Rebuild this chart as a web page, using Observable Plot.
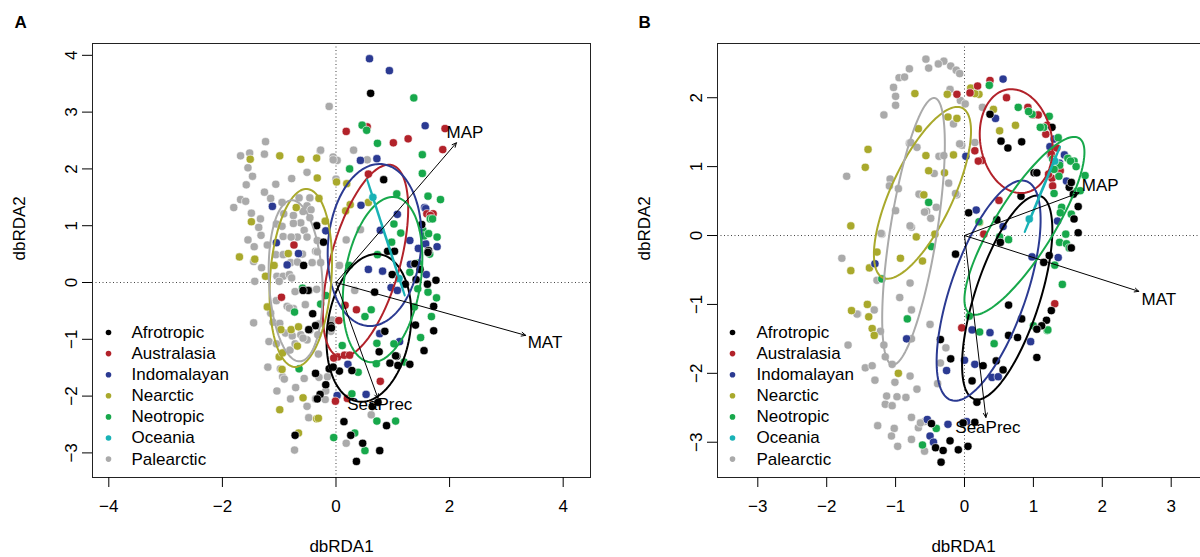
<!DOCTYPE html>
<html><head><meta charset="utf-8">
<script src="https://cdn.jsdelivr.net/npm/d3@7"></script>
<script src="https://cdn.jsdelivr.net/npm/@observablehq/plot@0.6"></script>
<style>
html,body{margin:0;padding:0;background:#fff;overflow:hidden;}
#wrap{position:relative;width:1200px;height:557px;overflow:hidden;}
#pa{position:absolute;left:0;top:0;width:600px;height:557px;}
#pb{position:absolute;left:600px;top:0;width:600px;height:557px;overflow:hidden;}
#pa svg,#pb svg{max-width:none !important;height:557px !important;}
</style></head><body><div id="wrap"><div id="pa"></div><div id="pb"></div></div>
<script>
const regions = ["Afrotropic","Australasia","Indomalayan","Nearctic","Neotropic","Oceania","Palearctic"];
const regionColors = ["#000000","#B2222A","#2B3A92","#A9A92C","#17A84B","#19B2B6","#AAAAAA"];
const envVars = ["MAP","MAT","SeaPrec"];
const xTicksA = [-4,-2,0,2,4];
const yTicksA = [-3,-2,-1,0,1,2,3,4];
const xTicksB = [-3,-2,-1,0,1,2,3];
const yTicksB = [-3,-2,-1,0,1,2];

// ---- Panel A scores ----
const afrotropicA = [[0.61,3.33],[0.84,1.81],[-0.34,1.00],[-0.22,0.71],[1.51,1.02],[1.63,0.56],[0.91,0.55],[1.03,0.55],[1.39,0.33],[1.48,0.23],[0.99,0.14],[1.22,-0.03],[1.41,0.05],[1.61,-0.03],[1.76,0.04],[0.68,-0.17],[1.72,-0.42],[1.40,-0.75],[1.72,-0.85],[0.86,-0.86],[-0.41,-0.55],[-0.36,-0.76],[-0.48,-0.83],[-0.09,-0.76],[-0.49,-0.14],[-0.58,-0.14],[-0.57,0.30],[0.76,-1.22],[1.07,-1.30],[0.95,-1.42],[1.30,-1.44],[1.09,-1.46],[1.55,-1.20],[0.28,-1.55],[0.06,-1.56],[-0.12,-1.52],[-0.05,-1.49],[-0.36,-1.60],[-0.18,-1.80],[-0.28,-1.97],[-0.33,-2.05],[0.64,-2.18],[0.74,-2.11],[0.14,-2.45],[0.89,-2.52],[0.26,-2.69],[0.47,-2.83],[0.77,-2.96],[0.36,-3.15],[-0.72,-2.69],[-0.08,-0.80],[1.62,0.53],[1.05,-1.29]];
const australasiaA = [[0.18,2.66],[0.55,2.74],[1.01,2.46],[1.27,2.53],[1.92,2.71],[1.88,2.34],[0.57,1.91],[1.60,1.21],[1.71,1.21],[-0.74,0.66],[-0.96,-0.26],[0.05,-0.67],[0.36,-0.48],[0.16,-0.40],[0.03,-1.31],[0.15,-1.28],[0.24,-1.28],[-0.04,-1.33],[0.78,-1.74],[-0.01,-2.09],[0.20,-2.04],[1.66,1.18]];
const indomalayanA = [[0.59,3.94],[0.94,3.73],[1.57,2.76],[0.43,2.15],[0.72,2.18],[-1.12,1.34],[0.44,1.36],[1.56,1.32],[1.08,1.20],[-0.18,0.91],[0.78,0.92],[1.30,0.74],[1.45,0.60],[1.78,0.63],[-1.05,0.70],[-0.66,0.51],[-0.86,0.31],[0.57,0.23],[0.82,0.20],[1.31,0.32],[1.59,0.14],[0.97,-0.09],[1.08,-0.14],[0.77,-0.90],[1.12,-1.04],[0.21,-1.44],[0.53,-1.97],[0.02,-1.99],[1.58,1.30],[1.58,0.68]];
const nearcticA = [[-1.51,2.17],[-0.99,2.23],[-0.62,2.17],[-0.34,2.19],[-0.33,1.84],[0.01,1.77],[0.19,1.74],[0.25,1.37],[0.17,1.26],[0.57,1.41],[-0.30,1.48],[-0.70,1.32],[-1.49,1.07],[-1.70,0.45],[-1.43,0.41],[-1.24,0.11],[-1.09,0.30],[-0.84,0.51],[-1.21,-0.43],[-0.97,-0.83],[-0.79,-0.83],[-0.66,-0.78],[-0.68,-1.12],[-1.00,-1.31],[-0.95,-1.53],[-0.94,-1.24],[-0.58,-2.03],[-0.34,-2.40],[-0.99,-2.24],[-0.66,-2.65],[-0.19,1.08],[-0.31,-2.39]];
const neotropicA = [[1.37,3.25],[0.46,2.77],[0.54,2.68],[0.73,2.45],[1.52,2.25],[1.52,1.92],[0.24,2.00],[1.07,1.56],[1.62,1.52],[1.84,1.46],[1.66,1.12],[1.53,0.92],[1.02,1.03],[1.14,0.87],[0.98,0.71],[1.78,0.80],[1.55,0.82],[1.65,0.50],[1.45,0.34],[1.30,0.18],[0.23,0.30],[0.73,0.49],[1.44,-0.11],[1.62,-0.17],[1.77,-0.27],[1.38,-0.43],[0.62,-0.48],[0.51,-0.60],[1.68,-0.60],[1.49,-0.97],[1.02,-1.08],[0.72,-1.07],[0.71,-1.43],[0.39,-1.58],[0.28,-1.96],[0.72,-2.44],[1.05,-2.44],[-0.04,-2.73],[0.33,-2.65],[0.51,-2.96],[0.11,-1.11],[-0.59,-0.10],[-0.18,-0.23],[-0.27,-0.38],[-0.73,-0.52],[-0.65,-1.52],[1.63,0.86],[1.70,1.12],[1.20,-1.40]];
const oceaniaA = [[0.65,1.50],[1.11,0.07]];
const palearcticA = [[-0.12,3.10],[-1.24,2.48],[-1.68,2.23],[-1.52,2.28],[-1.26,2.26],[-0.28,2.32],[0.31,2.33],[-0.05,2.21],[0.02,2.15],[0.55,2.16],[-1.55,2.02],[-1.47,1.87],[-1.58,1.72],[-1.06,1.73],[-0.78,1.83],[-0.51,1.94],[0.00,1.82],[-1.80,1.32],[-1.68,1.46],[-1.59,1.43],[-1.26,1.59],[-1.15,1.48],[-0.95,1.41],[-0.65,1.49],[-0.46,1.49],[-1.49,1.22],[-1.33,1.12],[-1.36,0.97],[-1.32,0.83],[-1.55,0.75],[-1.44,0.63],[-1.21,0.66],[-1.45,0.37],[-1.31,0.26],[-1.43,0.02],[-1.05,1.03],[-0.95,0.99],[-0.75,1.18],[-0.58,1.25],[-0.51,1.35],[-0.44,1.28],[-0.92,1.21],[-0.62,1.05],[-0.46,1.14],[-0.75,1.04],[-0.56,0.92],[-0.51,0.80],[-0.68,0.80],[-0.93,0.81],[-0.79,0.80],[-0.33,0.74],[-0.36,0.55],[-1.06,0.49],[-0.93,0.49],[-0.59,0.50],[-0.33,0.54],[-0.80,0.35],[-0.68,0.36],[-0.42,0.35],[-0.27,0.35],[-1.24,0.11],[-1.04,0.11],[-0.93,0.11],[-0.82,0.14],[-0.78,0.08],[-1.00,0.02],[-0.47,-0.14],[-0.34,-0.12],[-0.72,-0.16],[-1.05,-0.32],[-0.86,-0.42],[-0.75,-0.46],[-0.54,-0.39],[-0.30,-0.73],[-0.46,-0.84],[-1.45,-0.71],[-1.15,-0.54],[-1.11,-0.70],[-0.99,-0.72],[-0.89,-0.89],[-0.77,-0.94],[-0.62,-0.92],[-0.32,-0.92],[-0.09,-0.86],[-1.18,-1.04],[-1.05,-1.08],[-0.81,-1.19],[-0.72,-1.08],[-0.51,-1.01],[-0.31,-1.26],[-0.98,-1.52],[-1.20,-1.49],[-0.94,-1.66],[-0.56,-1.69],[-0.15,-1.66],[-0.30,-1.67],[-0.71,-1.85],[-1.04,-1.91],[-0.91,-1.70],[-0.80,-2.05],[-0.51,-2.18],[-0.48,-2.38],[-0.36,-2.05],[-0.19,-2.06],[-0.18,-1.91],[0.62,-2.33],[0.18,-2.83],[-0.73,-2.95],[0.06,0.30],[0.18,0.75],[0.43,0.93],[0.33,-0.14],[-0.07,-0.66],[-0.27,2.33],[-0.05,2.16],[-0.58,-0.98],[-0.82,-0.45]];

// ---- Panel B scores ----
const afrotropicB = [[0.37,1.76],[1.27,1.57],[0.53,1.37],[0.63,1.27],[0.83,1.36],[1.01,0.91],[1.05,0.91],[0.82,0.57],[1.52,0.70],[1.65,0.42],[1.59,0.24],[1.65,0.04],[1.55,-0.18],[1.23,-0.29],[1.15,-0.39],[0.47,0.23],[0.52,-0.10],[0.06,0.33],[-0.13,-0.27],[0.64,-1.01],[0.83,-1.21],[1.26,-1.09],[1.19,-1.23],[1.12,-1.31],[1.05,-1.36],[1.05,-1.77],[0.64,-1.45],[0.77,-1.48],[0.46,-1.82],[0.56,-1.95],[0.27,-1.89],[0.11,-2.11],[-0.20,-1.79],[-0.35,-1.51],[0.18,-2.42],[-0.48,-2.73],[-0.02,-2.72],[0.15,-2.71],[-0.21,-2.98],[0.05,-3.06],[-0.09,-3.11],[-0.42,-3.08],[-0.31,-3.12],[-0.34,-3.29],[1.58,0.60],[1.55,0.77]];
const australasiaB = [[-0.11,2.05],[0.08,2.07],[0.19,2.17],[0.37,2.25],[0.61,2.00],[0.92,1.86],[0.99,1.75],[1.07,1.75],[1.20,1.60],[1.18,1.47],[1.34,1.27],[1.39,0.94],[1.27,0.83],[1.28,0.72],[0.15,1.23],[0.25,1.09],[0.20,1.08],[0.50,0.51],[0.28,0.02],[-0.04,-1.34],[1.31,-0.99],[1.30,1.05],[1.22,0.89],[1.26,1.18]];
const indomalayanB = [[0.56,2.27],[0.45,1.70],[0.02,1.15],[1.24,1.29],[1.25,1.17],[1.45,1.17],[1.48,0.79],[1.35,0.21],[0.17,0.37],[0.56,0.13],[0.98,-0.31],[1.36,-0.32],[-1.30,-0.41],[-0.84,-1.50],[0.11,-1.37],[0.37,-1.41],[0.96,-1.54],[0.00,-1.81],[-0.26,-1.96],[0.15,-1.87],[0.40,-2.06],[0.49,-2.05],[-0.54,-2.67],[-0.24,-2.74],[0.03,-2.70],[-0.50,-2.91],[-0.45,-3.00],[1.30,1.40],[1.38,1.05]];
const nearcticB = [[-0.72,2.06],[-0.25,2.05],[0.09,2.14],[0.21,2.05],[0.15,2.06],[0.42,1.83],[0.51,1.52],[0.74,1.60],[-0.24,1.72],[-0.11,1.70],[-0.67,1.55],[-1.40,1.25],[-1.44,0.99],[-0.56,1.16],[-0.16,1.17],[-0.52,0.94],[-0.29,0.91],[-0.59,0.59],[-1.65,0.14],[-0.70,-0.02],[-0.43,0.02],[-1.27,-0.24],[-0.93,-0.33],[-0.61,-0.37],[-1.38,-0.47],[-1.65,-0.51],[-1.41,-1.00],[-1.64,-1.09],[-1.39,-1.18],[-1.34,-1.35],[-1.31,-1.45],[-0.96,-2.00],[0.22,0.19]];
const neotropicB = [[0.36,2.18],[0.78,1.86],[0.98,1.76],[0.93,1.80],[1.23,1.73],[1.15,1.57],[1.36,1.42],[1.28,1.11],[1.38,1.02],[1.50,1.12],[1.59,1.08],[1.75,0.87],[1.41,0.41],[1.55,0.31],[1.30,0.61],[1.47,0.02],[1.38,-0.10],[1.48,-0.12],[1.42,-0.71],[1.31,-0.43],[0.51,-0.02],[0.64,-0.06],[-0.52,0.48],[-0.48,-0.16],[-1.20,-0.63],[-0.83,-1.21],[0.07,-1.17],[0.22,-1.40],[0.43,-1.57],[1.00,-1.31],[1.20,-1.38],[-0.41,-2.80],[-0.61,-3.04],[0.21,0.20],[1.63,0.64],[1.68,0.65],[1.37,0.86],[1.30,0.96],[1.54,1.08],[1.39,0.33],[1.52,-0.18],[1.21,-1.37],[1.10,1.57],[1.62,1.00]];
const oceaniaB = [[0.94,0.24],[1.31,1.08]];
const palearcticB = [[-0.56,2.56],[-0.30,2.53],[-0.38,2.49],[-0.20,2.46],[-0.12,2.40],[-0.07,2.35],[-0.52,2.43],[-0.80,2.42],[-0.95,2.29],[-0.87,2.30],[-1.03,2.15],[-1.00,2.02],[-1.00,1.89],[-1.17,1.75],[-0.80,1.34],[-0.69,1.28],[-0.21,2.12],[-0.06,1.96],[0.01,1.91],[0.26,1.86],[-0.16,1.62],[0.15,1.35],[-0.04,1.31],[-0.37,1.15],[-0.30,1.16],[-0.23,0.76],[-0.44,0.90],[-0.11,0.59],[-1.08,0.82],[-1.09,0.72],[-0.96,0.68],[-1.71,0.86],[-1.00,0.36],[-0.64,0.59],[-0.55,0.35],[-0.49,0.25],[-0.41,0.41],[-0.77,0.12],[-1.20,0.02],[-1.78,-0.33],[-0.79,-0.69],[-1.27,-0.65],[-0.94,-0.90],[-0.77,-1.08],[-0.50,-1.29],[-1.31,-1.08],[-1.55,-1.14],[-1.22,-1.39],[-1.17,-1.59],[-1.69,-1.59],[-0.77,-1.50],[-0.27,-1.63],[-0.35,-1.85],[-1.15,-1.76],[-1.05,-1.87],[-1.44,-1.92],[-1.34,-1.89],[-1.30,-2.10],[-1.01,-2.13],[-0.79,-2.04],[-0.69,-2.23],[-1.13,-2.33],[-0.98,-2.34],[-0.85,-2.35],[-1.15,-2.45],[-1.05,-2.47],[-0.39,-2.15],[-0.77,-2.64],[-1.26,-2.76],[-1.02,-2.80],[-0.67,-2.79],[-1.06,-2.91],[-0.97,-3.06],[-0.77,-2.96],[-0.58,-3.13],[-0.58,-2.70],[-0.64,-2.72],[-0.66,0.60],[-0.58,0.34],[-0.13,0.61],[-0.07,1.33],[-0.78,1.35],[-0.79,0.14],[-1.56,-1.14],[-1.21,0.03]];

// ellipse parameters per region (legend order): [centre x, centre y, semi-major, semi-minor, tilt in degrees from vertical]
const ellipsesA = [[0.58,-0.80,1.31,0.73,8.4],[0.52,0.38,1.75,0.61,15.5],[0.68,0.66,1.43,0.82,5],[-0.62,0.08,1.57,0.54,4],[0.82,0.05,1.47,0.67,9],[0.88,0.79,1.07,0.005,-18],[-0.71,0.03,1.42,0.47,-3]];
const ellipsesB = [[0.62,-0.90,1.55,0.47,18],[0.75,1.37,0.76,0.52,-10],[0.35,-0.80,1.68,0.55,19],[-0.61,0.62,1.36,0.45,25],[0.87,0.14,1.50,0.42,32],[1.13,0.67,0.67,0.005,22.5],[-0.74,0.06,1.96,0.34,9]];

// biplot arrows (tips) and their label positions
const arrowTipsA = [[2.12,2.46],[3.34,-0.93],[0.74,-2.04]];
const arrowLabelsA = [[2.27,2.64],[3.68,-1.06],[0.77,-2.14]];
const arrowTipsB = [[1.66,0.62],[2.53,-0.81],[0.31,-2.64]];
const arrowLabelsB = [[1.97,0.72],[2.82,-0.93],[0.34,-2.79]];

const drawOrder = [6,3,2,1,4,0,5];
const FONT = "'Liberation Sans', Arial, Helvetica, sans-serif";

function makePanel(cfg) {
  const dots = [];
  drawOrder.forEach(i => cfg.series[i].forEach(([x, y]) => dots.push({region: regions[i], x, y})));
  const ell = [];
  cfg.ellipses.forEach(([cx, cy, a, b, deg], i) => {
    const th = deg * Math.PI / 180;
    for (let k = 0; k <= 120; k++) {
      const t = 2 * Math.PI * k / 120;
      ell.push({region: regions[i],
        x: cx + a * Math.cos(t) * Math.sin(th) + b * Math.sin(t) * Math.cos(th),
        y: cy + a * Math.cos(t) * Math.cos(th) - b * Math.sin(t) * Math.sin(th)});
    }
  });
  const arr = envVars.map((v, i) => ({v, x0: 0, y0: 0, x: cfg.tips[i][0], y: cfg.tips[i][1], lx: cfg.labels[i][0], ly: cfg.labels[i][1]}));
  const legendMarks = [];
  regions.forEach((r, i) => {
    legendMarks.push(Plot.dot([r], {frameAnchor: "top-left", dx: cfg.legDot, dy: 289 + i * 21.1, r: 2.8, fill: regionColors[i]}));
    legendMarks.push(Plot.text([r], {frameAnchor: "top-left", dx: cfg.legText, dy: 289 + i * 21.1, text: d => d, textAnchor: "start", lineAnchor: "middle", fontSize: 17, fill: "black"}));
  });
  return Plot.plot({
    width: cfg.width, height: 557,
    marginLeft: cfg.ml, marginRight: cfg.mr, marginTop: 43, marginBottom: 80,
    style: {fontFamily: FONT, fontSize: "17px", color: "black", background: "white", overflow: "visible", maxWidth: "none"},
    x: {domain: cfg.xdom},
    y: {domain: cfg.ydom},
    color: {domain: regions, range: regionColors},
    marks: [
      Plot.ruleX([0], {stroke: "#444", strokeDasharray: "1,2.5"}),
      Plot.ruleY([0], {stroke: "#444", strokeDasharray: "1,2.5"}),
      Plot.dot(dots, {x: "x", y: "y", fill: "region", stroke: "white", strokeWidth: 0.6, r: 4.1}),
      Plot.line(ell, {x: "x", y: "y", z: "region", stroke: "region", strokeWidth: 2}),
      Plot.arrow(arr, {x1: "x0", y1: "y0", x2: "x", y2: "y", stroke: "black", strokeWidth: 1, headLength: 7, headAngle: 50}),
      Plot.text(arr, {x: "lx", y: "ly", text: "v", fontSize: 17, fill: "black"}),
      Plot.frame({stroke: "#222", strokeWidth: 1}),
      Plot.axisX({ticks: cfg.xticks, tickSize: 10, tickPadding: 12, fontSize: 17, label: null, tickFormat: d3.format("")}),
      Plot.axisY({ticks: cfg.yticks, tickSize: 10, tickPadding: 6, tickRotate: -90, fontSize: 17, label: null, tickFormat: d3.format("")}),
      Plot.text(["dbRDA1"], {frameAnchor: "bottom", dy: 69, text: d => d, fontSize: 17, lineAnchor: "middle", fill: "black"}),
      Plot.text(["dbRDA2"], {frameAnchor: "left", dx: -73, text: d => d, fontSize: 17, rotate: -90, lineAnchor: "middle", fill: "black"}),
      Plot.text([cfg.title], {frameAnchor: "top-left", dx: cfg.titleDx, dy: -21, text: d => d, fontSize: 17, fontWeight: "bold", lineAnchor: "middle", fill: "black"}),
      ...legendMarks
    ]
  });
}

document.getElementById("pa").appendChild(makePanel({
  title: "A", width: 600, ml: 92, mr: 10,
  xdom: [-4.287, 4.481], ydom: [-3.433, 4.208], xticks: xTicksA, yticks: yTicksA,
  series: [afrotropicA, australasiaA, indomalayanA, nearcticA, neotropicA, oceaniaA, palearcticA],
  ellipses: ellipsesA, tips: arrowTipsA, labels: arrowLabelsA,
  legDot: 16, legText: 39, titleDx: -78
}));
document.getElementById("pb").appendChild(makePanel({
  title: "B", width: 620, ml: 117, mr: 11,
  xdom: [-3.585, 3.556], ydom: [-3.512, 2.787], xticks: xTicksB, yticks: yTicksB,
  series: [afrotropicB, australasiaB, indomalayanB, nearcticB, neotropicB, oceaniaB, palearcticB],
  ellipses: ellipsesB, tips: arrowTipsB, labels: arrowLabelsB,
  legDot: 15, legText: 39, titleDx: -79
}));
</script>
</body></html>
